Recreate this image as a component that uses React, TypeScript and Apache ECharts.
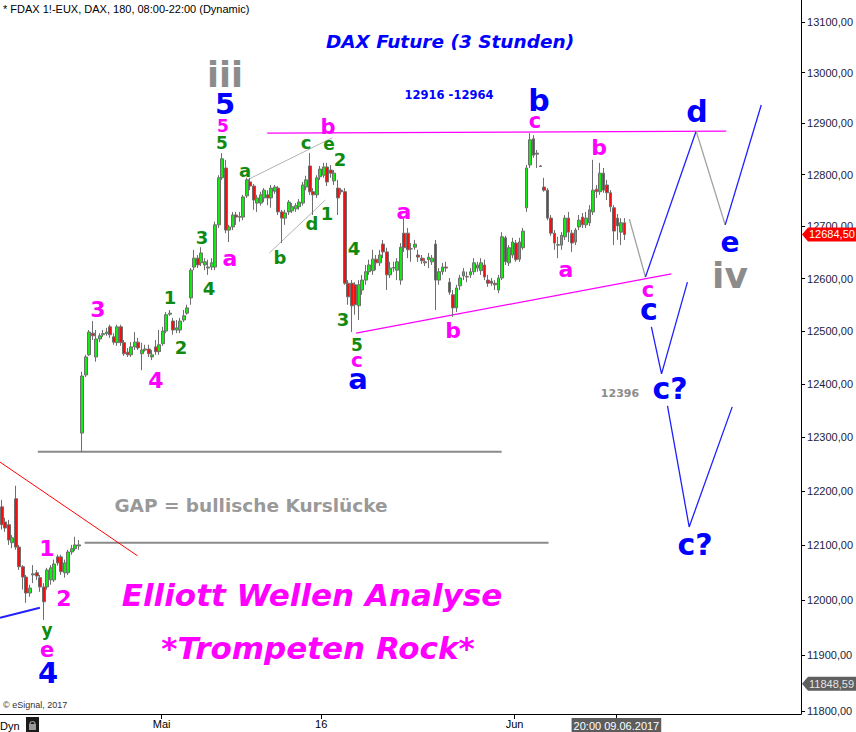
import React, { useEffect, useRef } from "react";
import * as echarts from "echarts";

// 3-hour candles, [open, close, low, high]
const candles: number[][] = [
  [12171, 12138, 12129, 12184], [12143, 12132, 12125, 12151], [12138, 12110, 12101, 12147], [12105, 12114, 12095, 12119],
  [12186, 12097, 12092, 12210], [12097, 12061, 12055, 12101], [12061, 12042, 12019, 12064], [12042, 12013, 11995, 12046],
  [12013, 12022, 12006, 12028], [12046, 12048, 12031, 12064], [12050, 12044, 12037, 12055], [12041, 12024, 12015, 12046],
  [12024, 11997, 11964, 12031], [12024, 12055, 12019, 12059], [12037, 12059, 12028, 12064], [12037, 12066, 12033, 12074],
  [12079, 12068, 12063, 12083], [12079, 12052, 12046, 12083], [12050, 12068, 12041, 12074], [12050, 12088, 12046, 12092],
  [12088, 12094, 12083, 12101], [12094, 12101, 12090, 12116], [12099, 12101, 12092, 12110],
  [12308, 12415, 12273, 12423], [12417, 12451, 12413, 12455], [12455, 12498, 12453, 12502], [12496, 12491, 12483, 12519],
  [12451, 12485, 12442, 12502], [12485, 12491, 12479, 12496], [12493, 12495, 12489, 12502], [12495, 12498, 12491, 12506],
  [12508, 12493, 12487, 12512], [12489, 12479, 12474, 12496], [12478, 12508, 12472, 12512], [12508, 12478, 12472, 12512],
  [12478, 12457, 12453, 12483], [12460, 12455, 12451, 12468], [12455, 12470, 12451, 12479], [12470, 12479, 12464, 12498],
  [12479, 12468, 12464, 12487], [12457, 12464, 12426, 12478], [12464, 12466, 12461, 12474], [12466, 12457, 12451, 12474],
  [12451, 12455, 12445, 12464], [12470, 12461, 12455, 12483], [12461, 12474, 12455, 12502], [12476, 12500, 12472, 12508],
  [12500, 12531, 12496, 12536], [12532, 12534, 12529, 12540], [12519, 12502, 12493, 12525], [12502, 12506, 12496, 12521],
  [12502, 12519, 12496, 12525], [12521, 12529, 12517, 12540], [12534, 12544, 12531, 12550], [12563, 12616, 12550, 12620],
  [12622, 12639, 12616, 12655], [12639, 12626, 12620, 12645], [12630, 12649, 12624, 12660], [12626, 12632, 12616, 12639],
  [12620, 12622, 12607, 12636], [12622, 12630, 12616, 12639], [12622, 12703, 12616, 12709], [12703, 12794, 12697, 12799],
  [12794, 12831, 12790, 12842], [12813, 12693, 12687, 12829], [12693, 12699, 12670, 12703], [12699, 12722, 12693, 12728],
  [12722, 12718, 12703, 12728], [12718, 12719, 12709, 12728], [12718, 12757, 12712, 12761], [12759, 12790, 12755, 12794],
  [12786, 12778, 12770, 12794], [12778, 12751, 12732, 12782], [12745, 12755, 12728, 12761], [12745, 12761, 12740, 12767],
  [12755, 12770, 12747, 12774], [12761, 12755, 12741, 12770], [12755, 12774, 12736, 12780], [12768, 12776, 12763, 12780],
  [12774, 12728, 12722, 12778], [12728, 12716, 12668, 12732], [12716, 12726, 12703, 12732], [12728, 12747, 12722, 12751],
  [12730, 12738, 12726, 12745], [12734, 12740, 12728, 12745], [12738, 12747, 12732, 12753], [12745, 12780, 12740, 12786],
  [12776, 12790, 12770, 12798], [12817, 12767, 12761, 12842], [12767, 12761, 12722, 12774], [12761, 12794, 12755, 12799],
  [12796, 12811, 12790, 12817], [12799, 12815, 12794, 12823], [12815, 12786, 12778, 12823], [12809, 12803, 12794, 12819],
  [12788, 12803, 12780, 12809], [12774, 12755, 12722, 12790], [12770, 12767, 12761, 12774], [12767, 12591, 12588, 12774],
  [12591, 12565, 12550, 12597], [12591, 12548, 12498, 12597], [12588, 12550, 12531, 12593], [12548, 12588, 12521, 12597],
  [12578, 12597, 12569, 12607], [12597, 12613, 12588, 12626], [12613, 12626, 12607, 12636], [12615, 12637, 12607, 12655],
  [12637, 12630, 12616, 12645], [12630, 12645, 12624, 12655], [12666, 12651, 12639, 12674], [12651, 12607, 12578, 12659],
  [12607, 12620, 12601, 12632], [12620, 12621, 12613, 12632], [12616, 12632, 12597, 12639], [12597, 12660, 12588, 12668],
  [12687, 12659, 12651, 12716], [12687, 12655, 12639, 12697], [12657, 12657, 12632, 12668], [12660, 12666, 12655, 12674],
  [12645, 12641, 12632, 12655], [12639, 12634, 12628, 12645], [12632, 12630, 12624, 12639], [12636, 12641, 12620, 12649],
  [12632, 12639, 12626, 12645], [12666, 12597, 12540, 12674], [12597, 12613, 12588, 12620], [12613, 12622, 12607, 12630],
  [12622, 12620, 12613, 12632], [12593, 12574, 12569, 12601], [12569, 12544, 12527, 12578], [12544, 12582, 12536, 12588],
  [12586, 12601, 12578, 12607], [12605, 12613, 12597, 12620], [12603, 12604, 12593, 12613], [12607, 12613, 12601, 12620],
  [12613, 12630, 12607, 12639], [12620, 12626, 12613, 12632], [12615, 12630, 12607, 12639], [12626, 12603, 12597, 12636],
  [12597, 12591, 12584, 12607], [12595, 12591, 12586, 12601], [12591, 12588, 12578, 12597], [12578, 12601, 12572, 12607],
  [12601, 12680, 12597, 12689], [12678, 12632, 12626, 12682], [12630, 12659, 12624, 12664], [12645, 12670, 12639, 12678],
  [12668, 12636, 12632, 12674], [12637, 12670, 12632, 12678], [12659, 12691, 12655, 12697], [12736, 12813, 12728, 12819],
  [12819, 12868, 12813, 12881], [12870, 12838, 12833, 12877], [12840, 12842, 12813, 12848], [12817, 12816, 12815, 12819],
  [12776, 12770, 12767, 12794], [12770, 12716, 12712, 12774], [12716, 12687, 12682, 12722], [12687, 12668, 12655, 12693],
  [12664, 12665, 12639, 12680], [12664, 12683, 12655, 12689], [12680, 12716, 12674, 12722], [12716, 12689, 12670, 12728],
  [12687, 12668, 12651, 12693], [12670, 12693, 12664, 12697], [12699, 12712, 12693, 12722], [12718, 12703, 12697, 12726],
  [12703, 12716, 12697, 12728], [12707, 12732, 12701, 12741], [12728, 12770, 12722, 12829], [12772, 12767, 12755, 12780],
  [12767, 12803, 12761, 12823], [12803, 12770, 12765, 12813], [12780, 12765, 12751, 12790], [12765, 12738, 12728, 12770],
  [12736, 12691, 12664, 12741], [12716, 12701, 12674, 12724], [12689, 12707, 12664, 12716], [12707, 12684.5, 12674, 12716],
];

const priceTicks = [11800, 11900, 12000, 12100, 12200, 12300, 12400, 12500, 12600, 12700, 12800, 12900, 13000, 13100];
const dateTickIdx = [45.7, 91.3, 146.6, 175.7];
const dateTickLabels = ["Mai", "16", "Jun", "20:00 09.06.2017"];
const lastClose = 12684.5;
const markedLow = 11848.59;
const priceMin = 11794.5;
const priceMax = 13143.8;
const slotCount = 229;

// drawn lines, points as [bar index, price]
const gapLine = [[10.3, 12273], [142.9, 12273]];
const prevHighLine = [[23.7, 12105], [156.3, 12105]];
const downTrendLine = [[-0.5, 12254], [38.8, 12081]];
const supportLine = [[-0.5, 11968], [10.9, 11986]];
const triangleTop = [[75.9, 12881], [207.1, 12885]];
const triangleBottom = [[101.3, 12496], [191.4, 12609]];
const wedgeTop = [[70.2, 12790], [94.5, 12872]];
const wedgeBottom = [[76.5, 12649], [92.5, 12751]];
const legToC = [[179.4, 12714], [184.0, 12603]];
const legCtoD = [[184.0, 12603], [198.5, 12885]];
const legDtoE = [[198.5, 12885], [206.8, 12703]];
const legEup = [[206.8, 12703], [217.1, 12936]];
const altPath1 = [[185.7, 12508], [188.6, 12419], [196.0, 12593]];
const altPath2 = [[190.3, 12359], [196.5, 12134], [208.8, 12357]];

const G = "#108a10";
const M = "#ff00ff";
const B = "#0000ff";
const GR = "#8c8c8c";

// wave labels: text, x, y, colour, size
const waveLabels: [string, number, number, string, number][] = [
  ["iii", 225, 75, GR, 35], ["5", 225, 104, B, 29], ["5", 223, 126, M, 17], ["5", 222, 143, G, 17],
  ["a", 245, 170, G, 18], ["a", 230, 258, M, 22], ["3", 202, 237, G, 18], ["4", 209, 288, G, 18],
  ["1", 170, 297, G, 18], ["2", 181, 347, G, 18], ["3", 98, 309, M, 22], ["4", 156, 380, M, 22],
  ["c", 306, 142, G, 18], ["e", 329, 144, G, 17], ["2", 340, 159, G, 18], ["b", 328, 127, M, 21],
  ["1", 327, 213, G, 18], ["d", 312, 223, G, 18], ["b", 280, 257, G, 18], ["4", 354, 248, G, 18],
  ["3", 343, 319, G, 18], ["5", 357, 345, G, 17], ["c", 357, 360, M, 20], ["a", 358, 379, B, 29],
  ["a", 404, 211, M, 22], ["b", 453, 330, M, 22], ["12916 -12964", 449, 95, B, 11.5],
  ["b", 539, 100, B, 30], ["c", 535, 121, M, 21], ["b", 599, 147, M, 22], ["a", 566, 269, M, 22],
  ["d", 697, 111, B, 30], ["e", 730, 242, B, 28], ["iv", 730, 275, GR, 36], ["c", 648, 290, M, 21],
  ["c", 649, 309, B, 30], ["c?", 670, 388, B, 30], ["12396", 620, 393, GR, 11], ["c?", 695, 544, B, 30],
  ["1", 47, 548, M, 22], ["2", 64, 598, M, 22], ["y", 47, 630, G, 17], ["e", 47, 650, M, 21], ["4", 48, 673, B, 29],
];

export default function App() {
  const ref = useRef<HTMLDivElement>(null);
  useEffect(() => {
    const chart = echarts.init(ref.current!, null, { renderer: "svg" });
    const L = Math.log;
    const fmt = (p: number) => p.toFixed(2).replace(".", ",");
    const lineSeries = (pts: number[][], color: string, width: number) => ({
      type: "line",
      data: pts.map(([x, p]) => [x, L(p)]),
      symbol: "none",
      silent: true,
      z: 3,
      lineStyle: { color, width },
    });
    const labelFor = (v: number) => {
      const k = dateTickIdx.findIndex((t) => Math.abs(t - v) < 0.01);
      if (k < 0) return "";
      return k === 3 ? "{box|" + dateTickLabels[k] + "}" : dateTickLabels[k];
    };
    chart.setOption({
      animation: false,
      backgroundColor: "#ffffff",
      grid: { left: 0, right: 54, top: 0, bottom: 18 },
      xAxis: {
        type: "value",
        min: -0.5,
        max: slotCount - 0.5,
        axisLine: { show: true, onZero: false, lineStyle: { color: "#000", width: 1 } },
        axisTick: { show: true, customValues: dateTickIdx, length: 5, lineStyle: { color: "#000" } },
        axisLabel: {
          customValues: dateTickIdx,
          formatter: labelFor,
          color: "#000",
          fontSize: 11,
          fontFamily: "Liberation Sans",
          margin: 4,
          rich: {
            box: { backgroundColor: "#5c5c5c", color: "#fff", fontSize: 11, fontFamily: "Liberation Sans", padding: [2, 2, 1, 2] },
          },
        },
        splitLine: { show: false },
      },
      yAxis: {
        type: "value",
        position: "right",
        min: L(priceMin),
        max: L(priceMax),
        axisLine: { show: true, onZero: false, lineStyle: { color: "#000", width: 1 } },
        axisTick: { show: true, customValues: priceTicks.map(L), length: 4, lineStyle: { color: "#000" } },
        axisLabel: {
          customValues: priceTicks.map(L),
          formatter: (v: number) => fmt(Math.round(Math.exp(v) / 100) * 100),
          color: "#1c1c40",
          fontSize: 11,
          fontFamily: "Liberation Sans",
          margin: 6,
        },
        splitLine: { show: false },
      },
      series: [
        lineSeries(gapLine, "#8a8a8a", 2),
        lineSeries(prevHighLine, "#8a8a8a", 2),
        lineSeries(downTrendLine, "#ff0000", 1),
        lineSeries(supportLine, "#2020ff", 2),
        lineSeries(triangleTop, "#ff00ff", 1.3),
        lineSeries(triangleBottom, "#ff00ff", 1.3),
        lineSeries(wedgeTop, "#b4b4b4", 1),
        lineSeries(wedgeBottom, "#b4b4b4", 1),
        lineSeries(legToC, "#a0a0a0", 1.3),
        lineSeries(legCtoD, "#2020ff", 1.3),
        lineSeries(legDtoE, "#a0a0a0", 1.3),
        lineSeries(legEup, "#2020ff", 1.3),
        lineSeries(altPath1, "#2020ff", 1.3),
        lineSeries(altPath2, "#2020ff", 1.3),
        {
          type: "candlestick",
          data: candles.map((c, i) => [i, L(c[0]), L(c[1]), L(c[2]), L(c[3])]),
          encode: { x: 0, y: [1, 2, 3, 4] },
          barWidth: 3.4,
          z: 5,
          itemStyle: { color: "#10ec10", color0: "#f01010", borderColor: "#6e6e6e", borderColor0: "#6e6e6e", borderWidth: 1 },
        },
      ],
    });
    const yLast = chart.convertToPixel({ yAxisIndex: 0 }, L(lastClose)) as number;
    const yLow = chart.convertToPixel({ yAxisIndex: 0 }, L(markedLow)) as number;
    const tag = (y: number, bg: string, fg: string, text: string) => [
      { type: "polygon", z: 20, shape: { points: [[802, y], [808, y - 7], [856, y - 7], [856, y + 7], [808, y + 7]] }, style: { fill: bg } },
      { type: "text", z: 21, x: 809, y, style: { text, fill: fg, font: '11px "Liberation Sans"', textAlign: "left", textVerticalAlign: "middle" } },
    ];
    const txt = (text: string, x: number, y: number, fill: string, font: string, align = "center") => ({
      type: "text", z: 15, x, y, style: { text, fill, font, textAlign: align, textVerticalAlign: "middle" },
    });
    chart.setOption({
      graphic: [
        txt("* FDAX 1!-EUX, DAX, 180, 08:00-22:00 (Dynamic)", 3, 9, "#000", '11px "Liberation Sans"', "left"),
        txt("DAX Future (3 Stunden)", 450, 41, B, 'italic bold 18.5px "DejaVu Sans"'),
        txt("GAP = bullische Kurslücke", 251, 505, "#999999", 'bold 18.5px "DejaVu Sans"'),
        txt("Elliott Wellen Analyse", 312, 595, M, 'italic bold 31px "DejaVu Sans"'),
        txt("*Trompeten Rock*", 318, 648, M, 'italic bold 31px "DejaVu Sans"'),
        txt("© eSignal, 2017", 3, 705, "#333", '9px "Liberation Sans"', "left"),
        txt("Dyn", 0, 726, "#000", '11px "Liberation Sans"', "left"),
        { type: "rect", z: 15, shape: { x: 26, y: 717, width: 13, height: 15 }, style: { fill: "#1a1a1a" } },
        { type: "rect", z: 16, shape: { x: 29, y: 724, width: 7, height: 6 }, style: { fill: "#9a9a9a" } },
        { type: "arc", z: 16, shape: { cx: 32.5, cy: 724, r: 2.5, startAngle: Math.PI, endAngle: 2 * Math.PI }, style: { stroke: "#9a9a9a", lineWidth: 1.2, fill: "none" } },
        ...waveLabels.map(([t, x, y, c, s]) => txt(t, x, y, c, `bold ${s}px "DejaVu Sans"`)),
        ...tag(yLast, "#ff0000", "#ffffff", fmt(lastClose)),
        ...tag(yLow, "#5f5f5f", "#e4e4e4", fmt(markedLow)),
      ],
    });
    return () => chart.dispose();
  }, []);
  return <div ref={ref} style={{ position: "fixed", left: 0, top: 0, width: 856, height: 732, background: "#fff" }} />;
}
